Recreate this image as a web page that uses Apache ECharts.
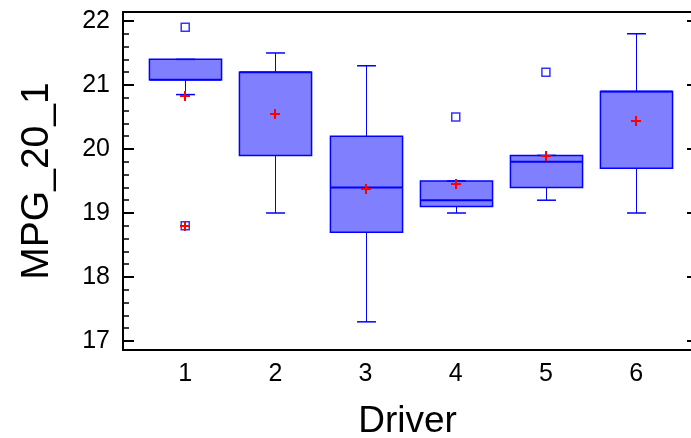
<!DOCTYPE html>
<html><head><meta charset="utf-8">
<script src="https://cdn.jsdelivr.net/npm/echarts@6/dist/echarts.min.js"></script>
<style>html,body{margin:0;padding:0;background:#fff}#c{width:691px;height:438px}</style>
</head><body><div id="c"></div>
<script>
// ---- data ----
const drivers    = [1, 2, 3, 4, 5, 6];
const whiskerLow = [20.85, 19.0, 17.3, 19.0, 19.2, 19.0];
const q1         = [21.08, 19.9, 18.7, 19.1, 19.4, 19.7];
const medians    = [21.08, 21.2, 19.4, 19.2, 19.8, 20.9];
const q3         = [21.4, 21.2, 20.2, 19.5, 19.9, 20.9];
const whiskerHigh= [21.4, 21.5, 21.3, 19.5, 19.9, 21.8];
const means      = [20.83, 20.55, 19.37, 19.45, 19.89, 20.44];
const outlierX   = [1, 4, 5];
const outlierY   = [21.9, 20.5, 21.2];
const farOutX    = [1];
const farOutY    = [18.8];
const yTicks     = [17, 18, 19, 20, 21, 22];
const xTicks     = [1, 2, 3, 4, 5, 6];
const yMinorTicks = [];
for (let k = 0; k <= 25; k++) yMinorTicks.push(+(17 + k * 0.2).toFixed(1));

const FONT = 'Liberation Sans, Arial, sans-serif';
const BLUE = '#0000ff';
const FILL = '#8080ff';
const RED = '#ff0000';
const Y_MIN = 16.86, Y_MAX = 22.14;
const X_MIN = 0.31, X_MAX = 6.62;

const boxData = drivers.map((d, i) => [d, whiskerLow[i], q1[i], medians[i], q3[i], whiskerHigh[i]]);
const meanData = drivers.map((d, i) => [d, means[i]]);
const outData = outlierX.map((x, i) => [x, outlierY[i]]);
const farData = farOutX.map((x, i) => [x, farOutY[i]]);

function plusItem(params, api) {
  const p = api.coord([api.value(0), api.value(1)]);
  const h = 5;
  const cx = Math.round(p[0]), cy = Math.round(p[1]);
  return {type: 'group', children: [
    {type: 'line', shape: {x1: cx - h, y1: cy, x2: cx + h, y2: cy}, style: {stroke: RED, lineWidth: 2}},
    {type: 'line', shape: {x1: cx, y1: cy - h, x2: cx, y2: cy + h}, style: {stroke: RED, lineWidth: 2}}
  ]};
}

const chart = echarts.init(document.getElementById('c'), null, {renderer: 'canvas'});
chart.setOption({
  animation: false,
  backgroundColor: '#fff',
  grid: {left: 123, right: -1, top: 12, bottom: 88, containLabel: false, outerBoundsMode: 'none'},
  xAxis: [{
    type: 'value', min: X_MIN, max: X_MAX, position: 'bottom',
    axisLine: {show: true, lineStyle: {color: '#000', width: 2}},
    axisTick: {show: false}, splitLine: {show: false},
    axisLabel: {customValues: xTicks, fontSize: 25, color: '#000', margin: 12, fontFamily: FONT},
    name: 'Driver', nameLocation: 'middle', nameGap: 53,
    nameTextStyle: {fontSize: 37, color: '#000', fontFamily: FONT}
  }, {
    type: 'value', min: X_MIN, max: X_MAX, position: 'top',
    axisLine: {show: true, lineStyle: {color: '#000', width: 2}},
    axisTick: {show: false}, axisLabel: {show: false}, splitLine: {show: false}
  }],
  yAxis: [{
    type: 'value', min: Y_MIN, max: Y_MAX, position: 'left',
    axisLine: {show: true, lineStyle: {color: '#000', width: 2}},
    axisTick: {show: true, inside: true, length: 11, customValues: yTicks, lineStyle: {color: '#000', width: 2}},
    axisLabel: {customValues: yTicks, fontSize: 25, color: '#000', margin: 13, fontFamily: FONT},
    splitLine: {show: false},
    name: 'MPG_20_1', nameLocation: 'middle', nameGap: 66, nameRotate: 90,
    nameTextStyle: {fontSize: 39, color: '#000', fontFamily: FONT}
  }, {
    type: 'value', min: Y_MIN, max: Y_MAX, position: 'left',
    axisLine: {show: false},
    axisTick: {show: true, inside: true, length: 6, customValues: yMinorTicks, lineStyle: {color: '#000', width: 1.5}},
    axisLabel: {show: false}, splitLine: {show: false}
  }, {
    type: 'value', min: Y_MIN, max: Y_MAX, position: 'right',
    axisLine: {show: false},
    axisTick: {show: true, inside: true, length: 5, customValues: yTicks, lineStyle: {color: '#000', width: 2}},
    axisLabel: {show: false}, splitLine: {show: false}
  }],
  series: [{
    type: 'custom', xAxisIndex: 0, yAxisIndex: 0,
    data: boxData,
    encode: {x: 0, y: [1, 2, 3, 4, 5]},
    renderItem: function (params, api) {
      const x = api.value(0);
      const lo = api.coord([x, api.value(1)]);
      const b1 = api.coord([x, api.value(2)]);
      const md = api.coord([x, api.value(3)]);
      const b3 = api.coord([x, api.value(4)]);
      const hi = api.coord([x, api.value(5)]);
      const bw = api.size([0.8, 0])[0];
      const cw = api.size([0.21, 0])[0];
      const cx = Math.round(lo[0]) + 0.5;
      const st = {stroke: BLUE, lineWidth: 1};
      return {type: 'group', children: [
        {type: 'line', shape: {x1: cx, y1: hi[1], x2: cx, y2: b3[1]}, style: st},
        {type: 'line', shape: {x1: cx, y1: b1[1], x2: cx, y2: lo[1]}, style: st},
        {type: 'rect', shape: {x: cx - bw / 2, y: b3[1], width: bw, height: b1[1] - b3[1]},
          style: {fill: FILL, stroke: BLUE, lineWidth: 1.5}},
        {type: 'line', shape: {x1: cx - bw / 2, y1: md[1], x2: cx + bw / 2, y2: md[1]}, style: {stroke: BLUE, lineWidth: 2}},
        {type: 'line', shape: {x1: cx - cw / 2, y1: hi[1], x2: cx + cw / 2, y2: hi[1]}, style: {stroke: BLUE, lineWidth: 1.5}},
        {type: 'line', shape: {x1: cx - cw / 2, y1: lo[1], x2: cx + cw / 2, y2: lo[1]}, style: {stroke: BLUE, lineWidth: 1.5}}
      ]};
    }
  }, {
    type: 'scatter', xAxisIndex: 0, yAxisIndex: 0,
    data: outData.concat(farData),
    symbol: 'rect', symbolSize: 8,
    itemStyle: {color: '#fff', borderColor: BLUE, borderWidth: 1.5}
  }, {
    type: 'custom', xAxisIndex: 0, yAxisIndex: 0,
    data: meanData.concat(farData), encode: {x: 0, y: 1},
    renderItem: plusItem, z: 5
  }]
});
</script>
</body></html>
